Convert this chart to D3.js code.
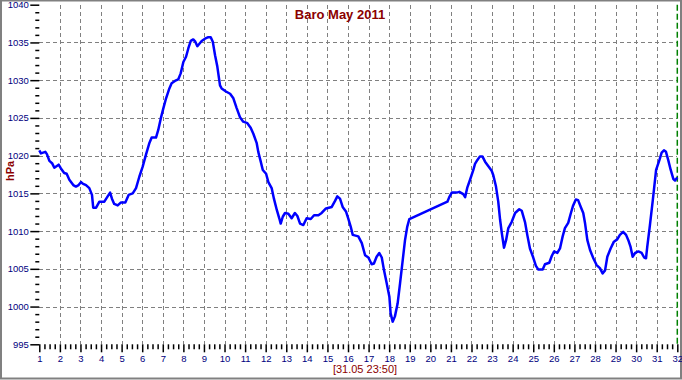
<!DOCTYPE html>
<html>
<head>
<meta charset="utf-8">
<script src="https://cdn.jsdelivr.net/npm/d3@7"></script>
<style>
    body { margin: 0; background: #fff; }
    svg { display: block; font-family: "Liberation Sans", Arial, sans-serif; }
    .tick_label { fill: #000080; font-size: 9.5px; }
    .grid_line { stroke: #808080; stroke-width: 1; stroke-dasharray: 4,3; shape-rendering: crispEdges; }
    .now_line { stroke: #008000; stroke-width: 1.5; stroke-dasharray: 6,3; }
    .baro_line { fill: none; stroke: #0000ff; stroke-width: 2.5; stroke-linejoin: round; }
</style>
</head>
<body>
<svg id="chart" width="682" height="380"></svg>
<script>
`use strict`
/*
気圧グラフ (Baro May 2011) の描画
*/

// 日 (1.00 = 1日 0:00)
const days = [
    1.00, 1.08, 1.29, 1.37, 1.49, 1.62, 1.73, 1.94, 2.05, 2.21, 2.33, 2.46, 2.65, 2.78, 2.91,
    3.03, 3.11, 3.27, 3.43, 3.56, 3.62, 3.76, 3.92, 4.16, 4.32, 4.44, 4.53, 4.64, 4.81, 4.97,
    5.18, 5.34, 5.54, 5.70, 5.86, 6.02, 6.18, 6.34, 6.46, 6.67, 6.78, 6.90, 7.03, 7.16, 7.32,
    7.43, 7.59, 7.75, 7.87, 8.00, 8.13, 8.24, 8.36, 8.48, 8.58, 8.68, 8.77, 8.89, 9.05, 9.21,
    9.33, 9.43, 9.54, 9.65, 9.78, 9.86, 10.07, 10.27, 10.43, 10.59, 10.75, 10.91, 11.11, 11.27, 11.40,
    11.56, 11.64, 11.76, 11.86, 12.02, 12.13, 12.29, 12.40, 12.54, 12.66, 12.73, 12.83, 12.94, 13.10, 13.26,
    13.42, 13.54, 13.67, 13.83, 13.99, 14.19, 14.35, 14.56, 14.72, 14.93, 15.21, 15.37, 15.48, 15.61, 15.74,
    15.90, 16.01, 16.13, 16.23, 16.50, 16.67, 16.83, 16.99, 17.15, 17.26, 17.39, 17.52, 17.64, 17.75, 17.88,
    18.01, 18.07, 18.17, 18.28, 18.41, 18.53, 18.66, 18.77, 18.88, 18.98, 20.83, 20.92, 21.04, 21.28, 21.41,
    21.60, 21.69, 21.80, 21.93, 22.09, 22.17, 22.28, 22.41, 22.53, 22.66, 22.82, 22.98, 23.06, 23.19, 23.30,
    23.39, 23.47, 23.58, 23.68, 23.79, 23.95, 24.12, 24.32, 24.44, 24.60, 24.71, 24.84, 25.00, 25.13, 25.25,
    25.46, 25.57, 25.78, 25.90, 26.01, 26.17, 26.30, 26.43, 26.54, 26.70, 26.82, 26.94, 27.07, 27.18, 27.31,
    27.43, 27.52, 27.63, 27.76, 27.92, 28.08, 28.24, 28.37, 28.49, 28.60, 28.76, 28.92, 29.08, 29.21, 29.37,
    29.51, 29.62, 29.73, 29.83, 29.95, 30.11, 30.27, 30.39, 30.48, 30.54, 30.67, 30.81, 30.97, 31.13, 31.24,
    31.35, 31.45, 31.56, 31.68, 31.81, 31.89, 32.00
];

// 気圧 (hPa)
const pressures = [
    1020.7, 1020.3, 1020.5, 1020.2, 1019.3, 1019.0, 1018.4, 1018.8, 1018.3, 1017.7, 1017.6, 1016.8, 1016.1, 1015.9, 1016.1,
    1016.5, 1016.3, 1016.1, 1015.7, 1014.8, 1013.1, 1013.1, 1013.9, 1013.9, 1014.6, 1015.1, 1014.3, 1013.6, 1013.4, 1013.8,
    1013.8, 1014.8, 1015.0, 1015.7, 1017.2, 1018.5, 1020.1, 1021.6, 1022.4, 1022.4, 1023.4, 1024.9, 1026.3, 1027.6, 1028.9,
    1029.6, 1029.9, 1030.1, 1030.9, 1032.4, 1033.1, 1034.2, 1035.2, 1035.4, 1035.1, 1034.5, 1034.8, 1035.2, 1035.5, 1035.7,
    1035.7, 1035.1, 1033.3, 1031.8, 1029.3, 1028.9, 1028.5, 1028.2, 1027.6, 1026.3, 1025.1, 1024.5, 1024.3, 1023.7, 1022.9,
    1021.7, 1020.5, 1019.2, 1018.1, 1017.6, 1016.5, 1015.7, 1014.3, 1012.8, 1011.7, 1011.0, 1011.9, 1012.4, 1012.3, 1011.7,
    1012.4, 1012.0, 1011.0, 1010.8, 1011.7, 1011.6, 1012.1, 1012.1, 1012.4, 1013.0, 1013.2, 1014.0, 1014.6, 1014.3, 1013.2,
    1012.6, 1011.7, 1010.6, 1009.5, 1009.3, 1008.4, 1006.8, 1006.5, 1005.6, 1005.7, 1006.6, 1007.1, 1006.5, 1004.8, 1003.1,
    1001.3, 999.1, 998.0, 998.7, 1000.4, 1003.1, 1006.2, 1008.8, 1010.6, 1011.6, 1013.9, 1014.5, 1015.1, 1015.1, 1015.2,
    1014.9, 1014.5, 1015.8, 1016.8, 1018.1, 1018.9, 1019.4, 1019.9, 1019.9, 1019.2, 1018.6, 1018.0, 1017.4, 1015.9, 1013.9,
    1011.5, 1009.8, 1007.8, 1008.8, 1010.4, 1011.2, 1012.4, 1012.9, 1012.7, 1011.2, 1009.5, 1007.7, 1006.5, 1005.4, 1004.9,
    1004.9, 1005.6, 1005.8, 1006.7, 1007.3, 1007.1, 1007.7, 1009.3, 1010.4, 1011.1, 1012.3, 1013.4, 1014.2, 1014.1, 1013.2,
    1012.4, 1011.0, 1008.8, 1007.5, 1006.4, 1005.5, 1005.1, 1004.4, 1004.8, 1006.6, 1007.7, 1008.6, 1008.9, 1009.5, 1009.9,
    1009.5, 1008.8, 1007.9, 1006.6, 1007.1, 1007.3, 1007.1, 1006.5, 1006.4, 1007.9, 1010.8, 1014.1, 1018.1, 1019.4, 1020.4,
    1020.7, 1020.5, 1019.4, 1018.1, 1016.9, 1016.7, 1017.1
];

// 目盛り
const x_ticks = [1, 2, 3, 4, 5, 6, 7, 8, 9, 10, 11, 12, 13, 14, 15, 16,
                 17, 18, 19, 20, 21, 22, 23, 24, 25, 26, 27, 28, 29, 30, 31, 32];
const y_ticks = [995, 1000, 1005, 1010, 1015, 1020, 1025, 1030, 1035, 1040];
const x_grid = [2, 3, 4, 5, 6, 7, 8, 9, 10, 11, 12, 13, 14, 15, 16, 17,
                18, 19, 20, 21, 22, 23, 24, 25, 26, 27, 28, 29, 30, 31];
const y_grid = [1000, 1005, 1010, 1015, 1020, 1025, 1030, 1035];
const now_day = [32];

// テキスト
const title_text = 'Baro May 2011';
const y_label_text = 'hPa';
const updated_text = '[31.05 23:50]';

const svg = d3.select('#chart');

const x = d3.scaleLinear().domain([1, 32]).range([39.3, 677.3]);
const y = d3.scaleLinear().domain([995, 1040]).range([344.3, 4.7]);

// 外枠
svg.append('rect')
    .attr('x', 1)
    .attr('y', 0.5)
    .attr('width', 680)
    .attr('height', 378)
    .attr('fill', '#fff')
    .attr('stroke', '#808080')
    .attr('stroke-width', 2)
;

// グリッド
function draw_grid() {
    svg.append('g')
        .selectAll('line')
        .data(x_grid)
        .join('line')
        .attr('class', 'grid_line')
        .attr('x1', d => Math.round(x(d)) + 0.5)
        .attr('x2', d => Math.round(x(d)) + 0.5)
        .attr('y1', y(1040))
        .attr('y2', y(995))
    ;
    svg.append('g')
        .selectAll('line')
        .data(y_grid)
        .join('line')
        .attr('class', 'grid_line')
        .attr('x1', x(1))
        .attr('x2', x(32))
        .attr('y1', d => Math.round(y(d)) + 0.5)
        .attr('y2', d => Math.round(y(d)) + 0.5)
    ;
    // 現在時刻の線
    svg.append('g')
        .selectAll('line')
        .data(now_day)
        .join('line')
        .attr('class', 'now_line')
        .attr('x1', d => x(d))
        .attr('x2', d => x(d))
        .attr('y1', y(1040))
        .attr('y2', y(995))
    ;
}

// 軸
function draw_axes() {
    // y 主目盛り
    let y_axis = svg.append('g')
        .attr('transform', 'translate(' + x(1) + ',0)')
        .call(d3.axisLeft(y).tickValues(y_ticks).tickSize(9).tickPadding(1.5).tickFormat(d3.format('d')))
    ;
    // y 副目盛り (1hPaごと)
    let y_minor = svg.append('g')
        .attr('transform', 'translate(' + x(1) + ',0)')
        .call(d3.axisLeft(y).tickValues(d3.range(995, 1041, 1).filter(v => v % 5 != 0)).tickSize(4).tickFormat(''))
    ;
    // x 主目盛り
    let x_axis = svg.append('g')
        .attr('transform', 'translate(0,' + y(995) + ')')
        .call(d3.axisBottom(x).tickValues(x_ticks).tickSize(8).tickPadding(2.5).tickFormat(d3.format('d')))
    ;
    // x 副目盛り (6時間ごと)
    let x_minor = svg.append('g')
        .attr('transform', 'translate(0,' + y(995) + ')')
        .call(d3.axisBottom(x).tickValues(d3.range(1, 32.01, 0.25).filter(v => v % 1 != 0)).tickSize(5).tickFormat(''))
    ;
    [y_axis, y_minor, x_axis, x_minor].forEach(g => {
        g.select('.domain').remove();
        g.selectAll('.tick line').attr('stroke', '#000').attr('stroke-width', 1.5);
        g.selectAll('.tick text')
            .attr('class', 'tick_label')
            .attr('font-family', null)
            .attr('font-size', null)
            .attr('fill', null)
        ;
    });
}

// 気圧の線
function draw_baro() {
    let line = d3.line()
        .x((d, i) => x(days[i]))
        .y(d => y(d))
    ;
    svg.append('path')
        .datum(pressures)
        .attr('class', 'baro_line')
        .attr('d', line)
    ;
}

// 文字
function draw_texts() {
    svg.append('text')
        .text(title_text)
        .attr('x', 340)
        .attr('y', 18.5)
        .attr('text-anchor', 'middle')
        .attr('font-size', '13px')
        .attr('font-weight', 'bold')
        .attr('fill', '#8b0000')
    ;
    svg.append('text')
        .text(y_label_text)
        .attr('transform', 'translate(14,171) rotate(-90)')
        .attr('text-anchor', 'middle')
        .attr('font-size', '11px')
        .attr('font-weight', 'bold')
        .attr('fill', '#8b0000')
    ;
    svg.append('text')
        .text(updated_text)
        .attr('x', 365)
        .attr('y', 372.5)
        .attr('text-anchor', 'middle')
        .attr('font-size', '11px')
        .attr('fill', '#8b0000')
    ;
}

draw_grid();
draw_axes();
draw_baro();
draw_texts();
</script>
</body>
</html>
